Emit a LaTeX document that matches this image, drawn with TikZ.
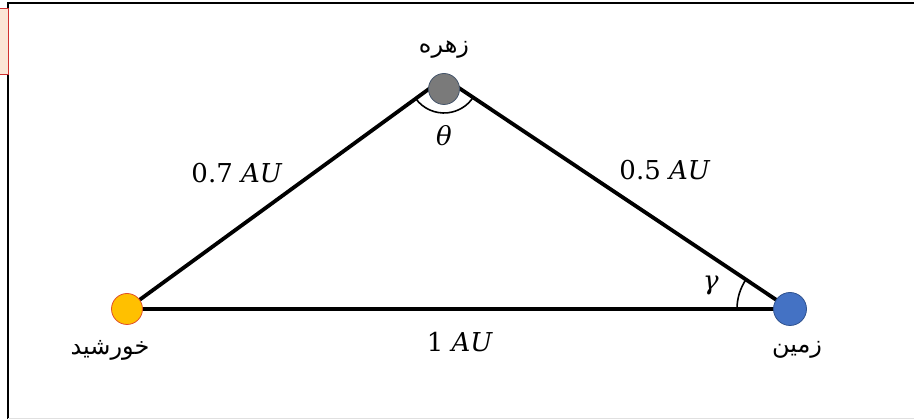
\documentclass[tikz,border=0pt]{standalone}
\usepackage{fontspec}
\usetikzlibrary{angles}
\TeXXeTstate=1
\newfontfamily\arabicfont[Script=Arabic]{DejaVu Sans}
\newfontfamily\lblfont{DejaVu Serif}
\definecolor{sunfill}{HTML}{FFC000}
\definecolor{sunedge}{HTML}{E0502A}
\definecolor{venusfill}{HTML}{7A7A7A}
\definecolor{venusedge}{HTML}{44546A}
\definecolor{earthfill}{HTML}{4472C4}
\definecolor{earthedge}{HTML}{2F528F}
\definecolor{boxfill}{HTML}{FBE5D6}
\definecolor{boxedge}{HTML}{D03030}
\tikzset{
  side/.style={line width=3.8pt},
  planet/.style={circle, minimum size=31pt, inner sep=0pt, line width=0.8pt},
  lbl/.style={font=\lblfont\fontsize{26}{30}\selectfont, inner sep=0pt},
  fa/.style={font=\arabicfont\fontsize{24}{28}\selectfont, inner sep=0pt},
  ang/.style={draw, line width=1.6pt}
}
\begin{document}
\begin{tikzpicture}[x=1pt,y=1pt]
\useasboundingbox (0,0) rectangle (914,419);
% frame
\draw[line width=2pt] (8,0) -- (8,416) -- (914,416);
\draw[line width=0.8pt, black!12] (8,1) -- (914,1);
\draw[boxedge, fill=boxfill, line width=1pt] (-3,410) rectangle (8,344);
% vertices
\coordinate (S) at (127,110);
\coordinate (V) at (444,341);
\coordinate (E) at (790,110);
\draw[side] (S) -- (V) -- (E);
\draw[side] (S) -- (E);
% angle arcs
\pic[ang, angle radius=35pt] {angle = S--V--E};
\pic[ang, angle radius=53pt] {angle = V--E--S};
% bodies
\node[planet, fill=sunfill, draw=sunedge] (sun) at (127,110) {};
\node[planet, fill=venusfill, draw=venusedge] (venus) at (444,330) {};
\node[planet, fill=earthfill, draw=earthedge, minimum size=33pt] (earth) at (790,110) {};
% labels
\node[lbl] (theta) at (444,283) {\itshape θ};
\node[lbl] (gamma) at (711,134) {\itshape γ};
\node[lbl] (d1) at (237,246) {0.7 \textit{AU}};
\node[lbl] (d2) at (665,249) {0.5 \textit{AU}};
\node[lbl] (d3) at (460,77) {1 \textit{AU}};
\node[fa] (tv) at (444,369) {\beginR زهره\endR};
\node[fa] (ts) at (110,69) {\beginR خورشید\endR};
\node[fa] (te) at (797,69) {\beginR زمین\endR};
\end{tikzpicture}
\end{document}
